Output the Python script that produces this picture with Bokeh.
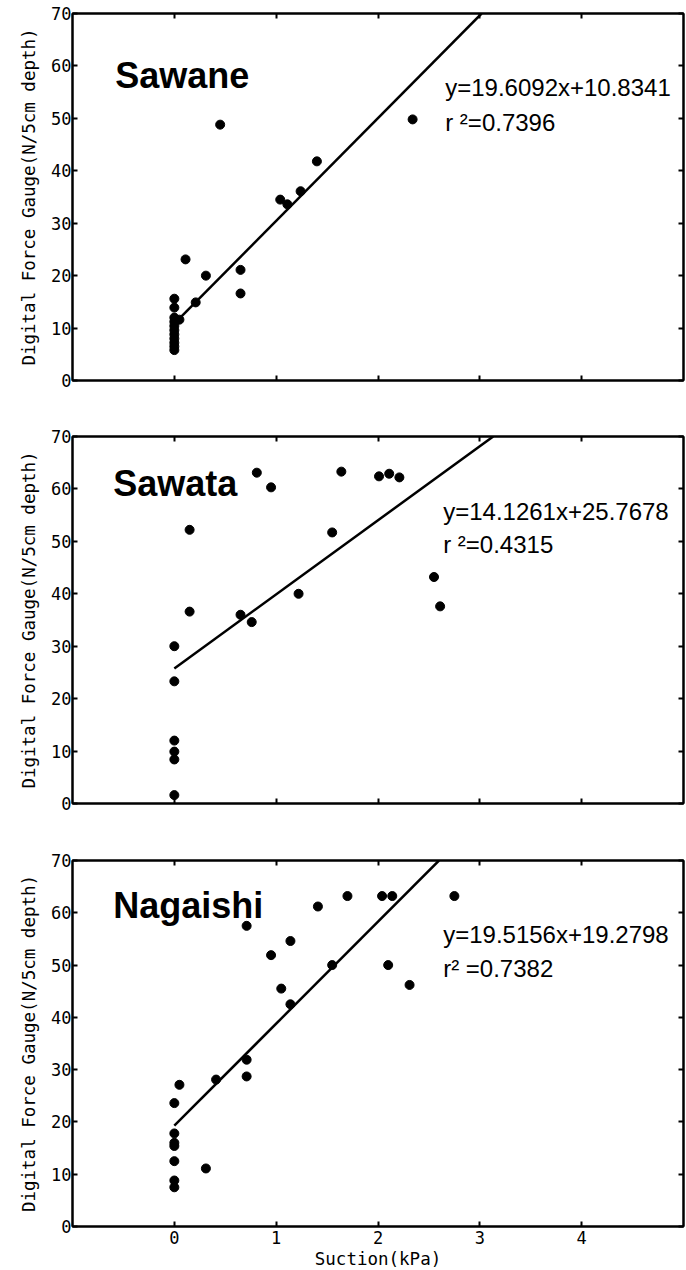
from bokeh.plotting import figure
from bokeh.models import Range1d, LinearAxis, FixedTicker, Label
from bokeh.layouts import column
from bokeh.embed import file_html
from bokeh.resources import INLINE

# ---- data: suction (kPa) vs. digital force gauge reading (N / 5 cm depth) ----
sawane_x = [0, 0, 0, 0, 0, 0, 0, 0, 0, 0, 0, 0.05, 0.11, 0.21, 0.31, 0.45,
            0.65, 0.65, 1.04, 1.11, 1.24, 1.40, 2.34]
sawane_y = [15.6, 13.9, 12.0, 11.2, 10.4, 9.6, 8.8, 8.0, 7.2, 6.5, 5.8, 11.6,
            23.1, 14.9, 20.0, 48.8, 21.1, 16.6, 34.5, 33.6, 36.1, 41.8, 49.8]

sawata_x = [0, 0, 0, 0, 0, 0, 0.15, 0.15, 0.65, 0.76, 0.81, 0.95, 1.22, 1.55,
            1.64, 2.01, 2.11, 2.21, 2.55, 2.61]
sawata_y = [30.0, 23.3, 12.0, 9.9, 8.4, 1.6, 52.2, 36.6, 36.0, 34.6, 63.1, 60.3,
            40.0, 51.7, 63.3, 62.4, 62.9, 62.2, 43.2, 37.6]

nagaishi_x = [0, 0, 0, 0, 0, 0, 0, 0.05, 0.31, 0.41, 0.71, 0.71, 0.71, 0.95,
              1.05, 1.14, 1.14, 1.41, 1.55, 1.70, 2.04, 2.14, 2.10, 2.31, 2.75]
nagaishi_y = [23.6, 17.8, 16.0, 15.4, 12.5, 8.8, 7.5, 27.1, 11.1, 28.1, 31.9,
              28.7, 57.5, 51.9, 45.5, 54.6, 42.5, 61.2, 50.0, 63.2, 63.2, 63.2,
              50.0, 46.2, 63.2]

sites = ["Sawane", "Sawata", "Nagaishi"]
slopes = [19.6092, 14.1261, 19.5156]
intercepts = [10.8341, 25.7678, 19.2798]
r_squared = [0.7396, 0.4315, 0.7382]

x_ticks = [0, 1, 2, 3, 4]
y_ticks = [0, 10, 20, 30, 40, 50, 60, 70]
x_lo, x_hi = -1, 5
y_lo, y_hi = 0, 70

y_title = "Digital Force Gauge(N/5cm depth)"
x_title = "Suction(kPa)"

xs_all = [sawane_x, sawata_x, nagaishi_x]
ys_all = [sawane_y, sawata_y, nagaishi_y]

MONO = "DejaVu Sans Mono"
SANS = "Liberation Sans"

# stacked panels share one frame width (a column lines their frames up)
LEFT, FRAME_W, RIGHT = 72, 611, 3
# per-panel vertical placement (top border, frame height, bottom border)
frames = [
    dict(top=13, fh=367, bottom=20),
    dict(top=36, fh=367, bottom=20),
    dict(top=37, fh=366, bottom=44),
]
# title / equation anchors (data units)
title_pos = [(-0.58, 58.2), (-0.60, 61.0), (-0.60, 61.3)]
eq_pos = [(2.66, 55.9, 49.3), (2.64, 55.75, 49.4), (2.64, 55.9, 49.4)]
r2_fmt = ["r \u00b2={:.4f}", "r \u00b2={:.4f}", "r\u00b2 ={:.4f}"]


def style_axis(ax, show_labels):
    ax.axis_line_width = 2
    ax.axis_line_color = "black"
    ax.major_tick_in = 5
    ax.major_tick_out = 0
    ax.major_tick_line_width = 2
    ax.minor_tick_line_color = None
    if show_labels:
        ax.major_label_text_font = MONO
        ax.major_label_text_font_size = "17px"
        ax.major_label_text_color = "black"
        ax.major_label_standoff = 1
    else:
        ax.major_label_text_font_size = "0px"
        ax.major_label_text_color = None
        ax.major_label_standoff = 0


panels = []
for i in range(3):
    f = frames[i]
    p = figure(frame_width=FRAME_W, frame_height=f["fh"],
               min_border_left=LEFT, min_border_right=RIGHT,
               min_border_top=f["top"], min_border_bottom=f["bottom"],
               x_range=Range1d(x_lo, x_hi), y_range=Range1d(y_lo, y_hi),
               output_backend="svg", toolbar_location=None,
               background_fill_color="white", border_fill_color="white")
    p.xgrid.visible = False
    p.ygrid.visible = False
    p.outline_line_color = "black"
    p.outline_line_width = 2

    xa = p.xaxis[0]
    xa.ticker = FixedTicker(ticks=x_ticks)
    style_axis(xa, show_labels=(i == 2))
    if i == 2:
        xa.major_label_standoff = 4
        xa.axis_label = x_title
        xa.axis_label_text_font = MONO
        xa.axis_label_text_font_size = "17.5px"
        xa.axis_label_text_font_style = "normal"
        xa.axis_label_text_color = "black"
        xa.axis_label_standoff = 2

    ya = p.yaxis[0]
    ya.ticker = FixedTicker(ticks=y_ticks)
    style_axis(ya, show_labels=True)
    ya.axis_label = y_title
    ya.axis_label_text_font = MONO
    ya.axis_label_text_font_size = "17.5px"
    ya.axis_label_text_font_style = "normal"
    ya.axis_label_text_color = "black"
    ya.axis_label_standoff = 9

    top_ax = LinearAxis(ticker=FixedTicker(ticks=x_ticks))
    style_axis(top_ax, show_labels=False)
    p.add_layout(top_ax, "above")
    right_ax = LinearAxis(ticker=FixedTicker(ticks=y_ticks))
    style_axis(right_ax, show_labels=False)
    p.add_layout(right_ax, "right")

    xs, ys = xs_all[i], ys_all[i]
    p.scatter(xs, ys, size=9, color="black")

    a, b = slopes[i], intercepts[i]
    x0 = min(xs)
    x1 = (y_hi - b) / a
    p.line([x0, x1], [a * x0 + b, a * x1 + b], line_color="black", line_width=2.5)

    tx, ty = title_pos[i]
    p.add_layout(Label(x=tx, y=ty, text=sites[i], text_font=SANS,
                       text_font_size="36px", text_font_style="bold",
                       text_color="black", text_baseline="alphabetic"))
    ex, ey1, ey2 = eq_pos[i]
    p.add_layout(Label(x=ex, y=ey1, text="y={:.4f}x+{:.4f}".format(a, b),
                       text_font=SANS, text_font_size="24px",
                       text_color="black", text_baseline="alphabetic"))
    p.add_layout(Label(x=ex, y=ey2, text=r2_fmt[i].format(r_squared[i]),
                       text_font=SANS, text_font_size="24px",
                       text_color="black", text_baseline="alphabetic"))
    panels.append(p)

layout = column(*panels, spacing=0)
open("out.html", "w").write(file_html(layout, INLINE))
